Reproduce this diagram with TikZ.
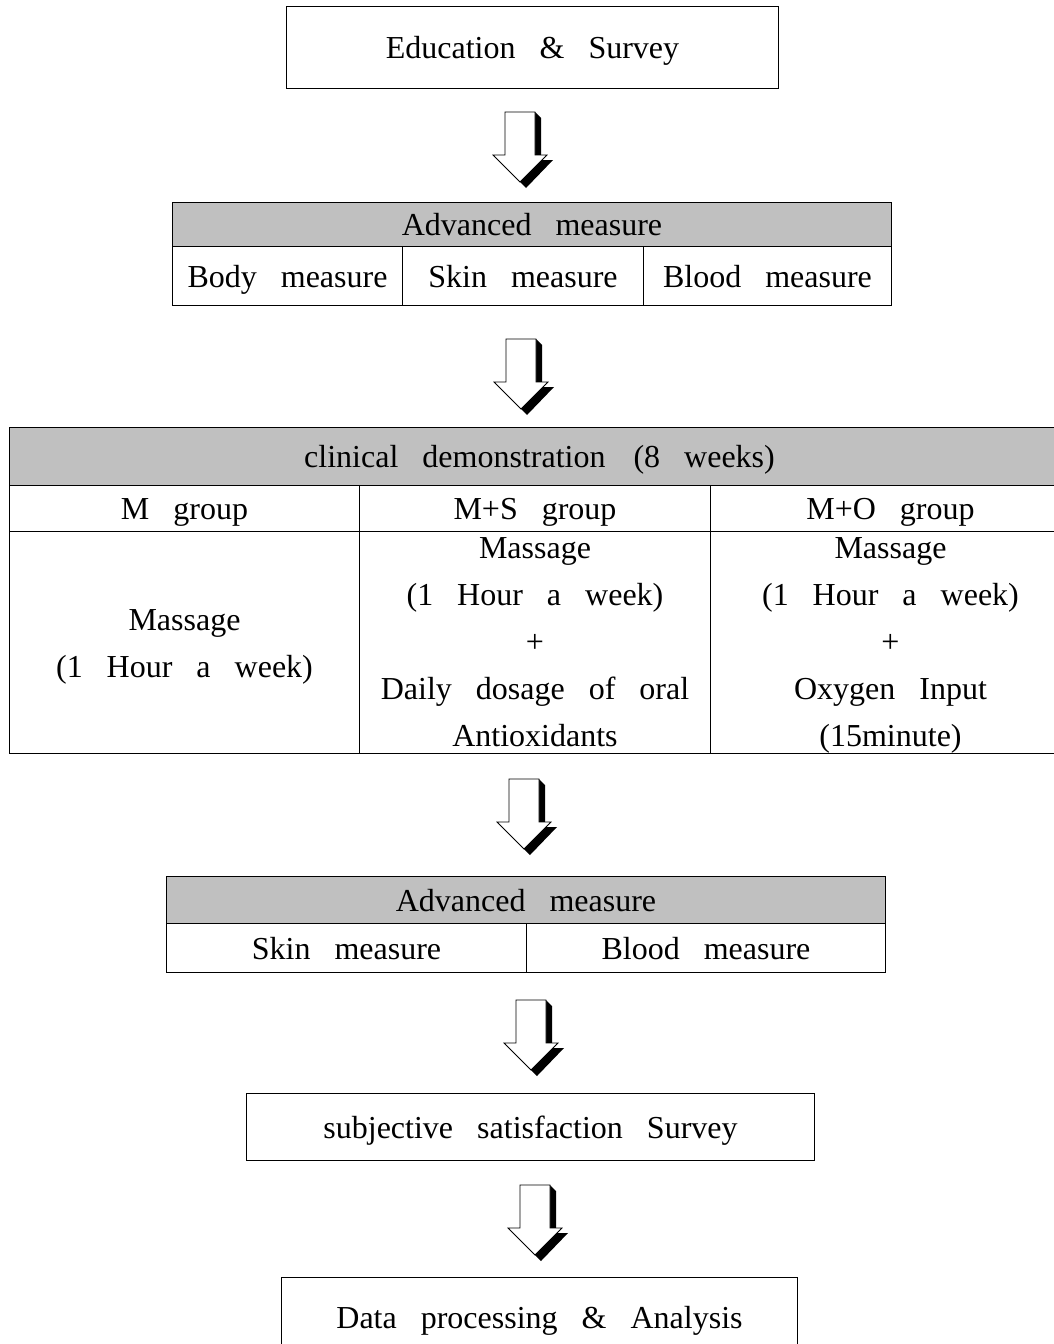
\documentclass[tikz,border=0pt]{standalone}
\usepackage{fontspec}
\setmainfont{Liberation Serif}[WordSpace=3.0]
\definecolor{headgray}{RGB}{192,192,192}

\begin{document}
\begin{tikzpicture}[x=1pt,y=-1pt,
  font=\fontsize{32}{47}\selectfont,
  box/.style={draw,line width=1pt,inner sep=0pt,anchor=north west,align=center},
  line/.style={box,text height=22pt,text depth=0pt},
  head/.style={line,fill=headgray},
  blockarrow/.pic={
    \fill[black] (15,0) -- (21,6) -- (21,48) -- (33,48) -- (6,76) -- (0,70) -- (27,43) -- (15,43) -- cycle;
    \filldraw[fill=white,draw=black,line width=0.8pt] (-15,0) -- (15,0) -- (15,43) -- (27,43) -- (0,70) -- (-27,43) -- (-15,43) -- cycle;
  }]
  \useasboundingbox (0,0) rectangle (1054,1344);

  % start
  \node[line,minimum width=492pt,minimum height=82pt] (edu) at (286,6) {Education \& Survey};
  \pic at (520,112) {blockarrow};

  % measure before
  \node[head,minimum width=719pt,minimum height=44pt] (pre) at (172,202) {Advanced measure};
  \node[line,minimum width=230pt,minimum height=59pt] (preBody) at (172,246) {Body measure};
  \node[line,minimum width=241pt,minimum height=59pt] (preSkin) at (402,246) {Skin measure};
  \node[line,minimum width=248pt,minimum height=59pt] (preBlood) at (643,246) {Blood measure};
  \pic at (521,339) {blockarrow};

  % groups
  \node[head,minimum width=1060pt,minimum height=58pt] (clin) at (9,427) {clinical demonstration\hspace{4pt} (8 weeks)};
  \node[line,minimum width=350pt,minimum height=46pt] (mGrp) at (9,485) {M group};
  \node[line,minimum width=351pt,minimum height=46pt] (msGrp) at (359,485) {M+S group};
  \node[line,minimum width=360pt,minimum height=46pt] (moGrp) at (710,485) {M+O group};
  \node[box,minimum width=350pt,minimum height=222pt] (mTxt) at (9,531) {};
  \node[box,minimum width=351pt,minimum height=222pt] (msTxt) at (359,531) {};
  \node[box,minimum width=360pt,minimum height=222pt] (moTxt) at (710,531) {};
  \node[align=center] (mInfo) at ([yshift=-4pt]mTxt.center) {Massage\\(1 Hour a week)};
  \node[align=center] (msInfo) at (msTxt.center) {Massage\\(1 Hour a week)\\+\\Daily dosage of oral\\Antioxidants};
  \node[align=center] (moInfo) at ([yshift=-3pt]moTxt.center) {Massage\\(1 Hour a week)\\+\\Oxygen Input\\(15minute)};
  \pic at (524,779) {blockarrow};

  % measure after
  \node[head,minimum width=719pt,minimum height=47pt] (post) at (166,876) {Advanced measure};
  \node[line,minimum width=360pt,minimum height=49pt] (postSkin) at (166,923) {Skin measure};
  \node[line,minimum width=359pt,minimum height=49pt] (postBlood) at (526,923) {Blood measure};
  \pic at (531,1000) {blockarrow};

  \node[line,minimum width=568pt,minimum height=67pt] (survey) at (246,1093) {subjective satisfaction Survey};
  \pic at (535,1185) {blockarrow};

  \node[line,minimum width=516pt,minimum height=80pt] (data) at (281,1277) {Data processing \& Analysis};
\end{tikzpicture}
\end{document}
